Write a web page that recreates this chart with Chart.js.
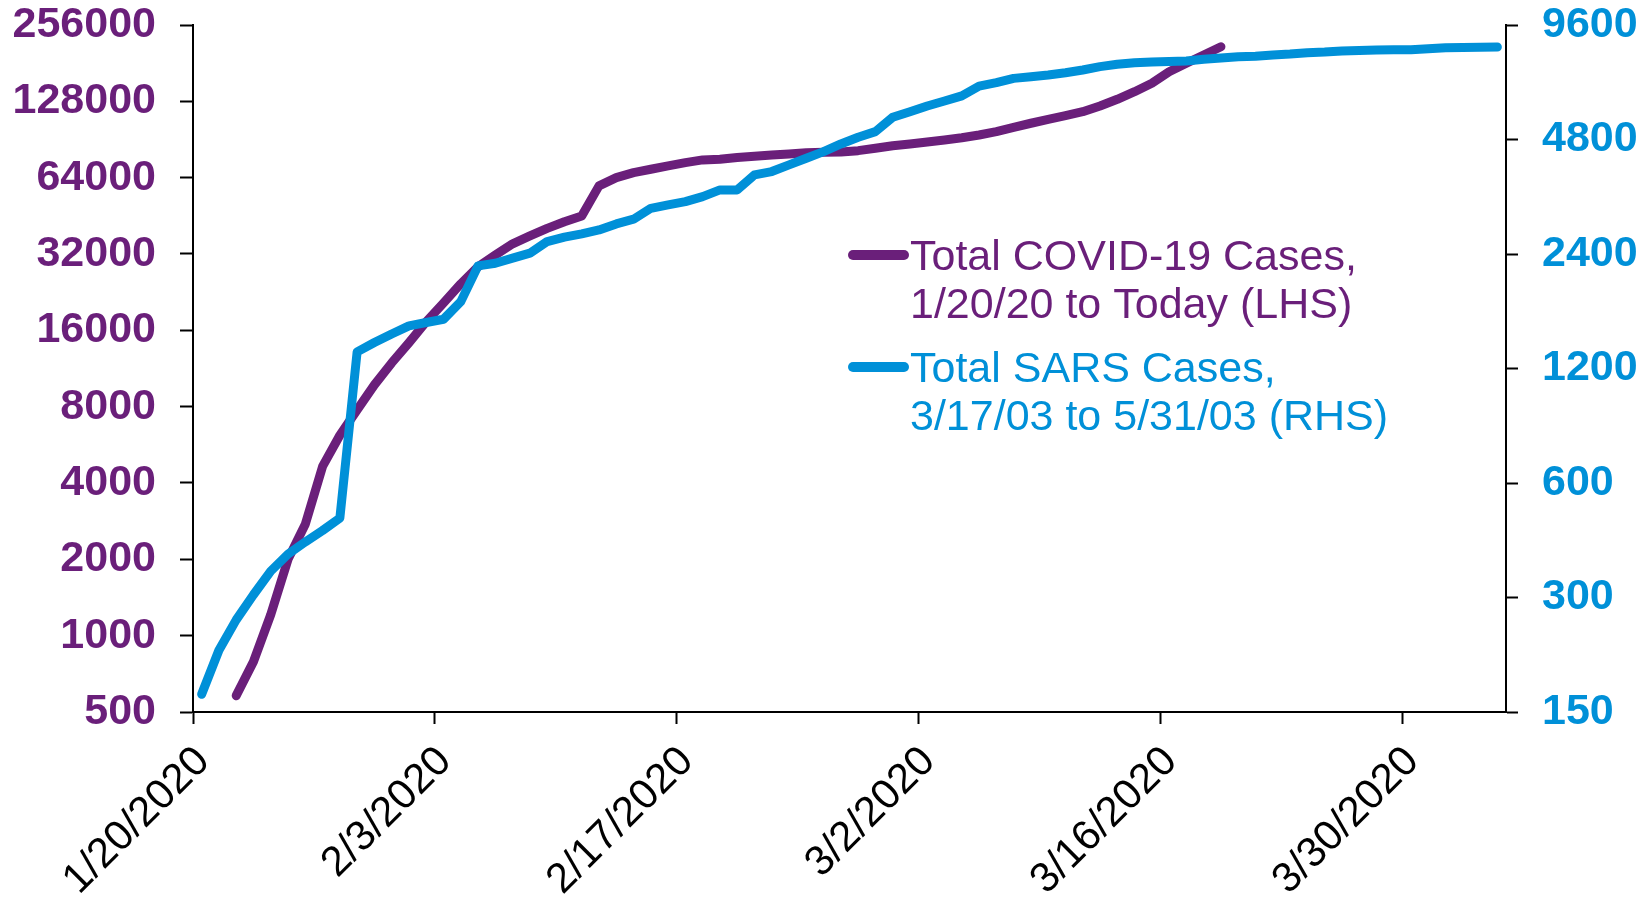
<!DOCTYPE html>
<html>
<head>
<meta charset="utf-8">
<script src="https://cdn.jsdelivr.net/npm/chart.js@4.4.0/dist/chart.umd.min.js"></script>
<style>
    html, body { margin: 0; padding: 0; background: #fff; }
    #wrap { width: 1642px; height: 904px; }
</style>
</head>
<body>
<div id="wrap"><canvas id="chart" width="1642" height="904"></canvas></div>
<script>
// x axis counts days from 1/20/2020
var startDate = new Date(2020, 0, 20);
var lastDay = 76;
var xTickDays = [0, 14, 28, 42, 56, 70];
var leftTicks = [500, 1000, 2000, 4000, 8000, 16000, 32000, 64000, 128000, 256000];
var rightTicks = [150, 300, 600, 1200, 2400, 4800, 9600];

// COVID-19 totals, one per day from 1/22/2020
var covidStartDay = 2;
var covidCases = [
    580, 790, 1210, 2000, 2750, 4650, 6170, 7770, 9750, 11900,
    14300, 17300, 20500, 24400, 28500, 31700, 35100, 37700, 40400, 42900,
    45200, 59400, 64000, 67000, 69100, 71200, 73400, 75200, 75600, 76800,
    77700, 78600, 79400, 80300, 80600, 80800, 81800, 83600, 85500, 86900,
    88500, 90100, 92000, 94300, 97200, 101100, 104900, 108700, 112400, 116500,
    122700, 130400, 139700, 150800, 167500, 180800, 195000, 210200
];

// SARS totals, one per day from 3/17/03 (plotted from day 0)
var sarsStartDay = 0;
var sarsCases = [
    167, 218, 262, 305, 352, 390, 420, 450, 485, 1327,
    1404, 1479, 1553, 1585, 1617, 1799, 2233, 2270, 2340, 2412,
    2587, 2657, 2711, 2777, 2880, 2963, 3165, 3231, 3296, 3396,
    3538, 3538, 3874, 3953, 4116, 4285, 4460, 4672, 4866, 5034,
    5490, 5680, 5880, 6060, 6250, 6630, 6770, 6950, 7020, 7090,
    7190, 7310, 7460, 7570, 7640, 7670, 7700, 7720, 7800, 7860,
    7920, 7950, 8010, 8050, 8120, 8150, 8200, 8230, 8250, 8260,
    8270, 8320, 8370, 8380, 8390, 8400
];

var purple = "#6a1f7a";
var blue = "#0090d8";
var fontFamily = "'Liberation Sans', Arial, sans-serif";

var legendItems = [
    { color: purple, lines: ["Total COVID-19 Cases,", "1/20/20 to Today (LHS)"] },
    { color: blue, lines: ["Total SARS Cases,", "3/17/03 to 5/31/03 (RHS)"] }
];

// points sit in the middle of each day
function toPoints(start, values) {
    return values.map(function (v, i) {
        return { x: start + i + 0.5, y: v };
    });
}

function dateLabel(day) {
    var d = new Date(startDate.getTime());
    d.setDate(d.getDate() + day);
    return (d.getMonth() + 1) + "/" + d.getDate() + "/" + d.getFullYear();
}

function fixedTicks(list) {
    return function (scale) {
        scale.ticks = list.map(function (v) { return { value: v }; });
    };
}

// fixed axis widths, and only 25px kept above the plot
function sideAxisFit(width) {
    return function (scale) {
        scale.width = width;
        scale.paddingTop = 25;
    };
}

var legendPlugin = {
    id: "sideLegend",
    afterDraw: function (chart) {
        var ctx = chart.ctx;
        ctx.save();
        ctx.font = "43px " + fontFamily;
        ctx.textBaseline = "alphabetic";
        legendItems.forEach(function (item, i) {
            var y = 270 + i * 112;
            ctx.strokeStyle = item.color;
            ctx.lineWidth = 10;
            ctx.lineCap = "round";
            ctx.beginPath();
            ctx.moveTo(853, y - 15);
            ctx.lineTo(904, y - 15);
            ctx.stroke();
            ctx.fillStyle = item.color;
            item.lines.forEach(function (t, j) {
                ctx.fillText(t, 910, y + j * 48);
            });
        });
        ctx.restore();
    }
};

Chart.defaults.font.family = fontFamily;

var ctx = document.getElementById("chart");
var chart = new Chart(ctx, {
    type: "line",
    data: {
        datasets: [
            {
                label: "Total COVID-19 Cases, 1/20/20 to Today (LHS)",
                data: toPoints(covidStartDay, covidCases),
                yAxisID: "y",
                borderColor: purple,
                borderWidth: 9,
                borderCapStyle: "round",
                borderJoinStyle: "round",
                pointRadius: 0,
                tension: 0,
                fill: false,
                order: 1
            },
            {
                label: "Total SARS Cases, 3/17/03 to 5/31/03 (RHS)",
                data: toPoints(sarsStartDay, sarsCases),
                yAxisID: "y1",
                borderColor: blue,
                borderWidth: 9,
                borderCapStyle: "round",
                borderJoinStyle: "round",
                pointRadius: 0,
                tension: 0,
                fill: false,
                order: 0
            }
        ]
    },
    options: {
        responsive: false,
        animation: false,
        devicePixelRatio: 1,
        layout: { padding: 0 },
        plugins: {
            legend: { display: false },
            tooltip: { enabled: false }
        },
        scales: {
            x: {
                type: "linear",
                min: 0,
                max: lastDay,
                afterBuildTicks: fixedTicks(xTickDays),
                afterFit: function (scale) { scale.height = 192; },
                grid: {
                    drawOnChartArea: false,
                    drawTicks: true,
                    tickLength: 12,
                    tickColor: "#000",
                    tickWidth: 2
                },
                border: { display: true, color: "#000", width: 2 },
                ticks: {
                    autoSkip: false,
                    maxRotation: 45,
                    minRotation: 45,
                    padding: 13,
                    labelOffset: 10,
                    color: "#000",
                    font: { size: 42 },
                    callback: function (value) { return dateLabel(value); }
                }
            },
            y: {
                type: "logarithmic",
                position: "left",
                min: 500,
                max: 256000,
                afterBuildTicks: fixedTicks(leftTicks),
                afterFit: sideAxisFit(193),
                grid: {
                    drawOnChartArea: false,
                    drawTicks: true,
                    tickLength: 13,
                    tickColor: "#000",
                    tickWidth: 2
                },
                border: { display: true, color: "#000", width: 2 },
                ticks: {
                    padding: 24,
                    color: purple,
                    font: { size: 43, weight: "bold" },
                    callback: function (value) { return String(value); }
                }
            },
            y1: {
                type: "logarithmic",
                position: "right",
                min: 150,
                max: 9600,
                afterBuildTicks: fixedTicks(rightTicks),
                afterFit: sideAxisFit(136),
                grid: {
                    drawOnChartArea: false,
                    drawTicks: true,
                    tickLength: 12,
                    tickColor: "#000",
                    tickWidth: 2
                },
                border: { display: true, color: "#000", width: 2 },
                ticks: {
                    padding: 24,
                    color: blue,
                    font: { size: 43, weight: "bold" },
                    callback: function (value) { return String(value); }
                }
            }
        }
    },
    plugins: [legendPlugin]
});
</script>
</body>
</html>
